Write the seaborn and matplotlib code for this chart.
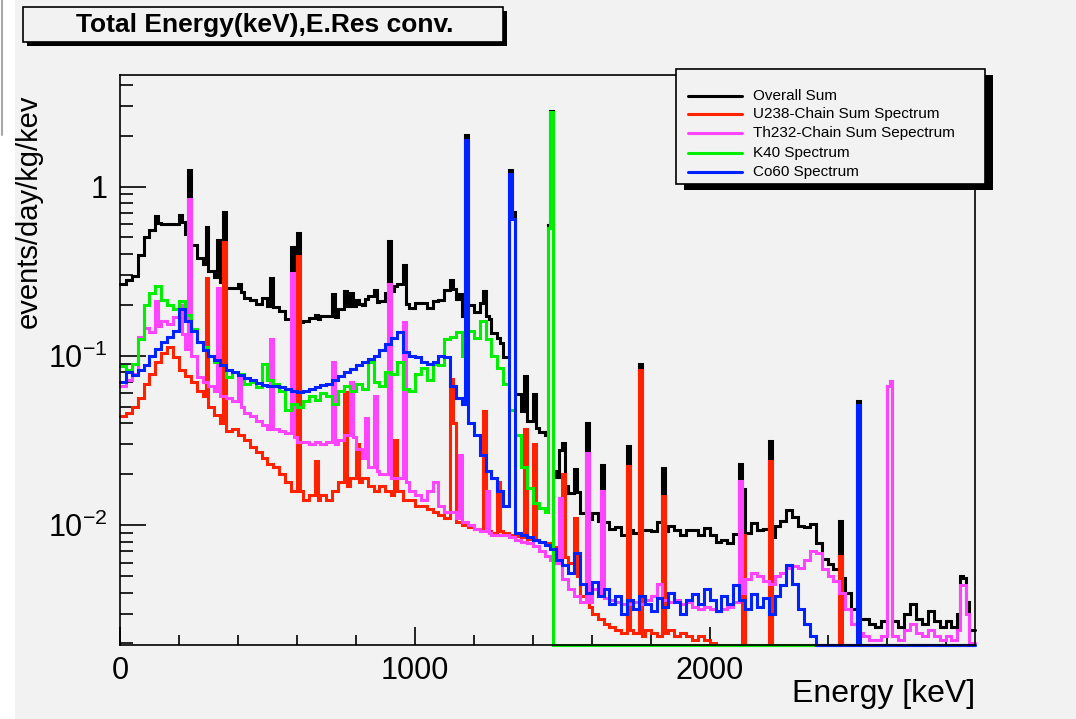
import numpy as np
import pandas as pd
import matplotlib
matplotlib.use("Agg")
import matplotlib.pyplot as plt
from matplotlib.patches import Rectangle
from matplotlib.lines import Line2D
from matplotlib.ticker import FixedLocator, FixedFormatter, NullFormatter
import seaborn as sns

# ---------------- data ----------------
BIN_KEV = 10          # histogram bin width
CONT_KEV = 20         # resolution of the typed continuum values
E_MAX = 2900

series_names = ["Overall Sum", "U238-Chain Sum Spectrum", "Th232-Chain Sum Sepectrum",
                "K40 Spectrum", "Co60 Spectrum"]
series_colors = ["#000000", "#ff2200", "#ff44ff", "#00ee00", "#0022ff"]

# continuum values, one per 20 keV (0 .. 2900 keV), events/day/kg/keV
u238_cont = [
    0.044, 0.046, 0.050, 0.056, 0.068, 0.078, 0.092, 0.104, 0.113, 0.098,
    0.082, 0.076, 0.070, 0.062, 0.058, 0.050, 0.045, 0.040, 0.036, 0.037,
    0.034, 0.032, 0.029, 0.027, 0.025, 0.023, 0.022, 0.020, 0.018, 0.016,
    0.016, 0.014, 0.015, 0.014, 0.015, 0.014, 0.016, 0.018, 0.017, 0.019,
    0.018, 0.019, 0.017, 0.016, 0.017, 0.016, 0.015, 0.016, 0.014, 0.014,
    0.013, 0.013, 0.0125, 0.012, 0.0115, 0.011, 0.011, 0.0105, 0.010, 0.0098,
    0.0095, 0.0093, 0.0092, 0.0090, 0.0092, 0.0090, 0.0088, 0.0086, 0.0085, 0.0083,
    0.0082, 0.0080, 0.0078, 0.0074, 0.0070, 0.0065, 0.0060, 0.0050, 0.0038, 0.0033,
    0.0030, 0.0028, 0.0026, 0.0025, 0.0024, 0.0023, 0.0024, 0.0023, 0.0022, 0.0024,
    0.0023, 0.0022, 0.0023, 0.0024, 0.0022, 0.0023, 0.0022, 0.0021, 0.0022, 0.0021,
    0.0020, 0.0018, 0.0012, 0.0011, 0.0010, 0.0011, 0.0010, 0.0012, 0.0010, 0.0011,
    0.0010, 0.0011, 0.0010, 0.0009, 0.0010, 0.0011, 0.0010, 0.0009, 0.0010, 0.0008,
    0.0009, 0.0008, 0.0009, 0.0008, 0.0006, 0.0005, 0.0006, 0.0005, 0.0004, 0.0005,
    0.0004, 0.0005, 0.0004, 0.0006, 0.0008, 0.0005, 0.0004, 0.0007, 0.0005, 0.0004,
    0.0005, 0.0004, 0.0006, 0.0005, 0.0004,
]
u238_peaks = {290: 0.29, 350: 0.47, 600: 0.39, 660: 0.024, 760: 0.061, 800: 0.030,
              930: 0.032, 1120: 0.073, 1130: 0.040, 1230: 0.047, 1280: 0.018,
              1370: 0.037, 1400: 0.030, 1500: 0.020, 1540: 0.011, 1580: 0.0096,
              1720: 0.0225, 1760: 0.082, 1840: 0.0148, 2110: 0.0088, 2200: 0.024,
              2440: 0.0066}

th232_cont = [
    0.066, 0.072, 0.078, 0.130, 0.145, 0.138, 0.150, 0.160, 0.155, 0.170,
    0.135, 0.110, 0.100, 0.075, 0.070, 0.066, 0.062, 0.058, 0.056, 0.054,
    0.050, 0.046, 0.044, 0.041, 0.039, 0.037, 0.037, 0.036, 0.035, 0.033,
    0.031, 0.031, 0.030, 0.031, 0.030, 0.031, 0.030, 0.032, 0.034, 0.033,
    0.028, 0.025, 0.022, 0.021, 0.020, 0.020, 0.019, 0.019, 0.018, 0.016,
    0.015, 0.014, 0.016, 0.018, 0.013, 0.012, 0.012, 0.011, 0.0105, 0.010,
    0.0095, 0.0092, 0.0090, 0.0088, 0.0088, 0.0087, 0.0085, 0.0082, 0.0080, 0.0078,
    0.0075, 0.0070, 0.0066, 0.0062, 0.0060, 0.0048, 0.0042, 0.0038, 0.0035, 0.0035,
    0.0042, 0.0040, 0.0037, 0.0036, 0.0035, 0.0034, 0.0034, 0.0035, 0.0034, 0.0036,
    0.0038, 0.0045, 0.0036, 0.0035, 0.0036, 0.0034, 0.0035, 0.0033, 0.0032, 0.0033,
    0.0032, 0.0031, 0.0032, 0.0033, 0.0035, 0.0040, 0.0048, 0.0052, 0.0050, 0.0047,
    0.0045, 0.0050, 0.0052, 0.0056, 0.0057, 0.0056, 0.0062, 0.0070, 0.0068, 0.0055,
    0.0050, 0.0047, 0.0040, 0.0032, 0.0026, 0.0023, 0.0022, 0.0021, 0.0021, 0.0022,
    0.0022, 0.0022, 0.0021, 0.0024, 0.0026, 0.0023, 0.0022, 0.0024, 0.0022, 0.0021,
    0.0022, 0.0021, 0.0024, 0.0030, 0.0020,
]
th232_peaks = {120: 0.21, 200: 0.20, 230: 0.84, 330: 0.25, 400: 0.075, 510: 0.126,
               580: 0.31, 720: 0.092, 780: 0.070, 830: 0.043, 860: 0.058, 910: 0.265,
               960: 0.158, 1150: 0.026, 1240: 0.016, 1490: 0.0145, 1580: 0.0265,
               1630: 0.016, 2100: 0.0183, 2600: 0.066, 2610: 0.071, 2850: 0.0044,
               2860: 0.0044}

k40_cont = [
    0.087, 0.082, 0.090, 0.126, 0.200, 0.235, 0.260, 0.215, 0.200, 0.190,
    0.210, 0.175, 0.144, 0.120, 0.112, 0.100, 0.092, 0.088, 0.075, 0.080,
    0.078, 0.068, 0.070, 0.065, 0.090, 0.072, 0.068, 0.062, 0.048, 0.052,
    0.050, 0.054, 0.058, 0.055, 0.060, 0.058, 0.052, 0.062, 0.066, 0.062,
    0.068, 0.064, 0.092, 0.070, 0.066, 0.080, 0.078, 0.092, 0.064, 0.062,
    0.078, 0.085, 0.072, 0.090, 0.088, 0.125, 0.130, 0.138, 0.100, 0.140,
    0.128, 0.160, 0.125, 0.100, 0.085, 0.068, 0.048, 0.034, 0.022, 0.0165,
    0.0135, 0.0126, 0.012, 0, 0, 0, 0, 0, 0, 0,
    0, 0, 0, 0, 0, 0, 0, 0, 0, 0,
    0, 0, 0, 0, 0, 0, 0, 0, 0, 0,
    0, 0, 0, 0, 0, 0, 0, 0, 0, 0,
    0, 0, 0, 0, 0, 0, 0, 0, 0, 0,
    0, 0, 0, 0, 0, 0, 0, 0, 0, 0,
    0, 0, 0, 0, 0, 0, 0, 0, 0, 0,
    0, 0, 0, 0, 0,
]
k40_peaks = {1450: 0.57, 1460: 2.76}

co60_cont = [
    0.070, 0.080, 0.077, 0.082, 0.088, 0.100, 0.110, 0.120, 0.130, 0.140,
    0.190, 0.160, 0.140, 0.120, 0.108, 0.100, 0.094, 0.088, 0.083, 0.080,
    0.077, 0.074, 0.072, 0.069, 0.067, 0.066, 0.066, 0.065, 0.064, 0.062,
    0.061, 0.062, 0.064, 0.065, 0.067, 0.068, 0.072, 0.076, 0.080, 0.084,
    0.088, 0.092, 0.096, 0.100, 0.108, 0.118, 0.128, 0.138, 0.106, 0.100,
    0.098, 0.092, 0.090, 0.092, 0.100, 0.098, 0.066, 0.056, 0.052, 0.040,
    0.034, 0.026, 0.021, 0.019, 0.016, 0.013, 0.0115, 0.0090, 0.0088, 0.0085,
    0.0082, 0.0080, 0.0076, 0.0072, 0.0062, 0.0058, 0.0052, 0.0068, 0.0045, 0.0040,
    0.0046, 0.0038, 0.0042, 0.0034, 0.0038, 0.0030, 0.0036, 0.0032, 0.0038, 0.0034,
    0.0031, 0.0037, 0.0033, 0.0040, 0.0035, 0.0030, 0.0036, 0.0039, 0.0034, 0.0042,
    0.0036, 0.0031, 0.0038, 0.0034, 0.0044, 0.0036, 0.0032, 0.0039, 0.0033, 0.0037,
    0.0030, 0.0038, 0.0044, 0.0058, 0.0045, 0.0032, 0.0026, 0.0022, 0, 0,
    0, 0, 0, 0, 0, 0, 0, 0, 0, 0,
    0, 0, 0, 0, 0, 0, 0, 0, 0, 0,
    0, 0, 0, 0, 0,
]
co60_peaks = {1170: 1.89, 1320: 1.18, 1330: 0.64, 2500: 0.051}

x_major = [0, 1000, 2000]
x_major_labels = ["0", "1000", "2000"]
y_major = [0.01, 0.1, 1.0]
y_major_labels = ["$10^{-2}$", "$10^{-1}$", "1"]


# ---------------- build 10 keV histograms ----------------
def build(cont, peaks):
    h = np.repeat(np.asarray(cont, dtype=float), CONT_KEV // BIN_KEV)
    for e, v in peaks.items():
        h[e // BIN_KEV] = v
    return h


u238 = build(u238_cont, u238_peaks)
th232 = build(th232_cont, th232_peaks)
k40 = build(k40_cont, k40_peaks)
co60 = build(co60_cont, co60_peaks)
overall = u238 + th232 + k40 + co60
hists = [overall, u238, th232, k40, co60]
edges = np.arange(0, E_MAX + BIN_KEV, BIN_KEV)

# ---------------- style ----------------
W, H = 1076, 719
BG = "#f2f2f2"
YMIN = 10 ** (-2.708)
YMAX = 10 ** (0.6586)
LW = 2.2

sns.set_theme(style="white")
plt.rcParams["font.family"] = ["Liberation Sans", "DejaVu Sans"]
plt.rcParams["mathtext.fontset"] = "custom"
plt.rcParams["mathtext.rm"] = "Liberation Sans"
plt.rcParams["mathtext.it"] = "Liberation Sans:italic"
plt.rcParams["mathtext.bf"] = "Liberation Sans:bold"

fig = plt.figure(figsize=(W / 100, H / 100), dpi=100, facecolor="white")


def fx(px):
    return px / W


def fy(py):
    return 1 - py / H


# canvas background and left edge line
fig.add_artist(Rectangle((fx(15), 0), 1 - fx(15), 1, transform=fig.transFigure,
                         facecolor=BG, edgecolor="none", zorder=-10))
fig.add_artist(Line2D([fx(2), fx(2)], [fy(0), fy(135)], transform=fig.transFigure,
                      color="#a8a8a8", lw=1.5, zorder=-5))

ax = fig.add_axes([fx(120), fy(645), fx(975) - fx(120), fy(75) - fy(645)])
ax.set_facecolor(BG)
ax.set_yscale("log")

for vals, col in zip(hists, series_colors):
    df = pd.DataFrame({"E": edges, "v": np.append(np.clip(vals, YMIN, None), max(vals[-1], YMIN))})
    sns.lineplot(data=df, x="E", y="v", ax=ax, color=col, linewidth=LW,
                 drawstyle="steps-post", estimator=None, sort=False, legend=False,
                 clip_on=False, solid_joinstyle="miter")

ax.set_xlim(0, E_MAX)
ax.set_ylim(YMIN, YMAX)
ax.set_xlabel("")
ax.set_ylabel("")

ax.xaxis.set_major_locator(FixedLocator(x_major))
ax.xaxis.set_major_formatter(FixedFormatter(x_major_labels))
ax.xaxis.set_minor_locator(FixedLocator([e for e in range(200, E_MAX, 200) if e % 1000]))
ax.yaxis.set_major_locator(FixedLocator(y_major))
ax.yaxis.set_major_formatter(FixedFormatter(y_major_labels))
ax.yaxis.set_minor_locator(FixedLocator([k * 10.0 ** d for d in (-3, -2, -1, 0)
                                         for k in range(2, 10)
                                         if YMIN <= k * 10.0 ** d <= YMAX]))
ax.yaxis.set_minor_formatter(NullFormatter())

ax.tick_params(axis="both", which="both", direction="in", bottom=True, left=True,
               top=False, right=False, width=1.2, color="black",
               labelcolor="black", labelsize=22)
ax.tick_params(axis="x", which="major", length=13, pad=8)
ax.tick_params(axis="x", which="minor", length=7)
ax.tick_params(axis="y", which="major", length=18.7, pad=9)
ax.tick_params(axis="y", which="minor", length=9.4)
for sp in ax.spines.values():
    sp.set_visible(True)
    sp.set_color("black")
    sp.set_linewidth(1.2)

# axis titles (ROOT style)
fig.text(fx(29), fy(95), "events/day/kg/kev", rotation=90, ha="center", va="top",
         fontsize=21, color="black")
fig.text(fx(975), fy(709), "Energy [keV]", ha="right", va="bottom", fontsize=23,
         color="black")

# title box with shadow
fig.add_artist(Rectangle((fx(27), fy(46)), fx(503) - fx(23), fy(7) - fy(42),
                         transform=fig.transFigure, facecolor="black",
                         edgecolor="none", zorder=4))
fig.add_artist(Rectangle((fx(23), fy(42)), fx(503) - fx(23), fy(7) - fy(42),
                         transform=fig.transFigure, facecolor=BG,
                         edgecolor="black", lw=1.2, zorder=5))
fig.text(fx(265), fy(25), "Total Energy(keV),E.Res conv.", ha="center", va="center",
         fontsize=19, fontweight="bold", color="black", zorder=6)

# legend box with shadow
fig.add_artist(Rectangle((fx(684), fy(190)), fx(985) - fx(676), fy(69) - fy(184),
                         transform=fig.transFigure, facecolor="black",
                         edgecolor="none", zorder=4))
fig.add_artist(Rectangle((fx(676), fy(184)), fx(985) - fx(676), fy(69) - fy(184),
                         transform=fig.transFigure, facecolor=BG,
                         edgecolor="black", lw=1.2, zorder=5))
row_y = [96, 114, 133, 153, 172]
for name, col, ry in zip(series_names, series_colors, row_y):
    fig.add_artist(Line2D([fx(688), fx(742)], [fy(ry), fy(ry)], transform=fig.transFigure,
                          color=col, lw=LW, zorder=6))
    fig.text(fx(753), fy(ry), name, ha="left", va="center", fontsize=11,
             color="black", zorder=6)

fig.savefig("out.png", dpi=100, facecolor=fig.get_facecolor())
